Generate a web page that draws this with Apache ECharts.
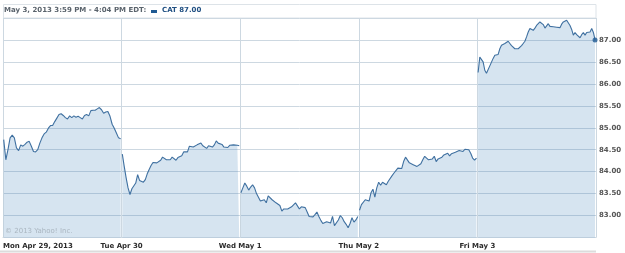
<!DOCTYPE html>
<html><head><meta charset="utf-8">
<script src="https://cdn.jsdelivr.net/npm/echarts@6/dist/echarts.min.js"></script>
<style>html,body{margin:0;padding:0;background:#fff}#c{width:625px;height:253px}</style>
</head><body><div id="c"></div>
<script>
const dayLabels = ["Mon Apr 29, 2013", "Tue Apr 30", "Wed May 1", "Thu May 2", "Fri May 3"];
const yTicks = [82.5, 83, 83.5, 84, 84.5, 85, 85.5, 86, 86.5, 87, 87.5];
const headerText = "May 3, 2013 3:59 PM - 4:04 PM EDT:";
const legendText = "CAT 87.00";
const copyrightText = "© 2013 Yahoo! Inc.";

const monValues = [84.73, 84.27, 84.5, 84.77, 84.83, 84.77, 84.54, 84.48, 84.61, 84.58, 84.62, 84.67, 84.69, 84.58, 84.46, 84.45, 84.5, 84.65, 84.77, 84.86, 84.9, 84.99, 85.05, 85.05, 85.14, 85.22, 85.3, 85.32, 85.28, 85.23, 85.2, 85.27, 85.23, 85.27, 85.24, 85.26, 85.23, 85.2, 85.28, 85.3, 85.27, 85.39, 85.4, 85.4, 85.43, 85.46, 85.41, 85.33, 85.36, 85.37, 85.26, 85.08, 84.99, 84.88, 84.77, 84.75];
const tueValues = [84.4, 84.12, 83.86, 83.63, 83.48, 83.61, 83.65, 83.74, 83.93, 83.8, 83.76, 83.76, 83.82, 83.95, 84.05, 84.14, 84.21, 84.17, 84.2, 84.18, 84.26, 84.33, 84.32, 84.27, 84.23, 84.27, 84.33, 84.3, 84.26, 84.32, 84.29, 84.36, 84.45, 84.44, 84.45, 84.58, 84.59, 84.56, 84.6, 84.61, 84.64, 84.65, 84.59, 84.61, 84.53, 84.59, 84.6, 84.56, 84.61, 84.7, 84.65, 84.61, 84.62, 84.56, 84.55, 84.55, 84.6, 84.59, 84.61, 84.65, 84.6, 84.59];
const wedValues = [83.52, 83.63, 83.74, 83.67, 83.58, 83.65, 83.7, 83.63, 83.5, 83.52, 83.33, 83.3, 83.36, 83.29, 83.45, 83.44, 83.36, 83.33, 83.29, 83.3, 83.23, 83.1, 83.15, 83.18, 83.15, 83.15, 83.2, 83.23, 83.29, 83.22, 83.15, 83.2, 83.23, 83.18, 83.08, 82.98, 83.0, 82.97, 83.02, 83.08, 82.98, 82.89, 82.82, 82.86, 82.86, 82.9, 82.83, 82.98, 82.77, 82.76, 82.9, 83.0, 82.95, 82.86, 82.8, 82.72, 82.82, 82.95, 82.85, 82.9, 82.98];
const thuValues = [83.12, 83.25, 83.28, 83.36, 83.4, 83.33, 83.52, 83.6, 83.42, 83.63, 83.76, 83.69, 83.76, 83.77, 83.7, 83.78, 83.82, 83.91, 83.97, 84.0, 84.08, 84.06, 84.07, 84.23, 84.33, 84.29, 84.2, 84.18, 84.16, 84.12, 84.12, 84.14, 84.18, 84.27, 84.35, 84.31, 84.27, 84.3, 84.29, 84.35, 84.23, 84.29, 84.31, 84.33, 84.38, 84.39, 84.42, 84.36, 84.41, 84.42, 84.44, 84.44, 84.48, 84.44, 84.46, 84.51, 84.53, 84.5, 84.42, 84.31, 84.26, 84.31];
const friValues = [86.26, 86.61, 86.59, 86.5, 86.31, 86.24, 86.27, 86.41, 86.44, 86.58, 86.65, 86.62, 86.67, 86.8, 86.88, 86.84, 86.92, 86.88, 86.97, 86.92, 86.87, 86.84, 86.8, 86.76, 86.8, 86.82, 86.87, 86.92, 86.97, 87.07, 87.18, 87.26, 87.27, 87.22, 87.27, 87.33, 87.37, 87.41, 87.37, 87.35, 87.27, 87.29, 87.37, 87.31, 87.29, 87.3, 87.3, 87.29, 87.29, 87.28, 87.36, 87.41, 87.42, 87.45, 87.41, 87.33, 87.24, 87.11, 87.17, 87.12, 87.09, 87.05, 87.12, 87.17, 87.11, 87.17, 87.2, 87.18, 87.26, 87.17, 87.0];

const days = [monValues, tueValues, wedValues, thuValues, friValues];
const dayStart = 0.006, dayEnd = 0.992;
const seriesData = [];
days.forEach((vals, d) => {
  const n = vals.length;
  vals.forEach((v, i) => {
    seriesData.push([d + dayStart + (dayEnd - dayStart) * i / (n - 1), v]);
  });
  if (d < days.length - 1) seriesData.push([d + 1, '-']);
});
const lastPoint = seriesData[seriesData.length - 1];

const FONT = '"DejaVu Sans", Verdana, sans-serif';
const chart = echarts.init(document.getElementById('c'), null, {renderer: 'canvas'});
chart.setOption({
  animation: false,
  backgroundColor: '#ffffff',
  grid: {left: 3, right: 29, top: 18, bottom: 15.5, containLabel: false},
  xAxis: {
    type: 'value', min: 0, max: dayLabels.length, interval: 1,
    axisLine: {show: true, lineStyle: {color: '#cdd8e1', width: 1}},
    axisTick: {show: false},
    splitLine: {show: true, lineStyle: {color: '#cdd8e1', width: 1}},
    axisLabel: {
      show: true, margin: 5, showMaxLabel: false, alignMinLabel: 'left',
      fontFamily: FONT, fontSize: 7, fontWeight: 'bold', color: '#2b2b2b',
      formatter: v => dayLabels[Math.round(v)] || ''
    }
  },
  yAxis: {
    type: 'value', position: 'right', min: yTicks[0], max: yTicks[yTicks.length - 1], interval: 0.5,
    axisLine: {show: false}, axisTick: {show: false},
    splitLine: {show: true, lineStyle: {color: '#cdd8e1', width: 1}},
    axisLabel: {
      show: true, margin: 3, showMinLabel: false, showMaxLabel: false,
      fontFamily: FONT, fontSize: 7, fontWeight: 'bold', color: '#555555',
      formatter: v => v.toFixed(2)
    }
  },
  series: [
    {
      type: 'line', data: seriesData, showSymbol: false, connectNulls: false,
      lineStyle: {color: '#3f70a0', width: 1.1},
      areaStyle: {color: 'rgba(50,120,180,0.2)', opacity: 1, origin: 'start'},
      z: 2
    },
    {
      type: 'scatter', data: [lastPoint], symbol: 'circle', symbolSize: 5,
      itemStyle: {color: '#1f5a93'}, z: 3
    }
  ],
  graphic: [
    {type: 'rect', shape: {x: 3.5, y: 4.5, width: 592.5, height: 13.5}, style: {fill: 'none', stroke: '#dde3e8', lineWidth: 1}, silent: true},
    {type: 'text', left: 4, top: 7, style: {text: headerText, font: 'bold 7px ' + FONT, fill: '#5a636c'}},
    {type: 'rect', shape: {x: 151, y: 10, width: 6, height: 3}, style: {fill: '#1f5a93'}},
    {type: 'text', left: 162, top: 7, style: {text: legendText, font: 'bold 7px ' + FONT, fill: '#1f4f82'}},
    {type: 'text', left: 5, top: 228, style: {text: copyrightText, font: '7px ' + FONT, fill: '#aab6c0'}, z: 10},
    {type: 'rect', shape: {x: 0, y: 250.5, width: 596, height: 2}, style: {fill: '#dcdcdc'}}
  ]
});
</script></body></html>
